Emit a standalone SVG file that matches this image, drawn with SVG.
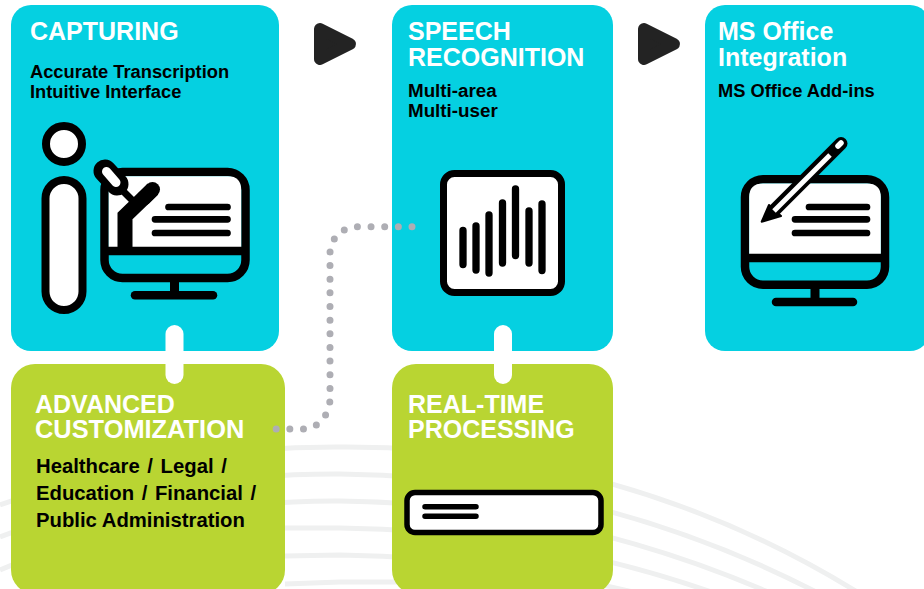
<svg xmlns="http://www.w3.org/2000/svg" width="924" height="589" viewBox="0 0 924 589">
<style>
.c{fill:#05d0e1}.g{fill:#b9d532}
.h{font:700 25px "Liberation Sans",Arial,sans-serif;fill:#fff}
.b{font:700 18.3px "Liberation Sans",Arial,sans-serif;fill:#000}
.m{font-size:18.8px}
.l{font-size:20.3px}
.s{word-spacing:2px}
.k{fill:none;stroke:#000;stroke-linecap:round;stroke-linejoin:round}
.w{fill:#fff;stroke:#000;stroke-linejoin:round}
.arc{fill:none;stroke:#eff0f0;stroke-width:5}
.br{fill:#fff}
.tri{fill:#232323;stroke:#232323;stroke-width:12;stroke-linejoin:round}
</style>
<rect width="924" height="589" fill="#fff"/>
<g id="background">
<path class="arc" d="M0 505A1000 1000 0 0 1 340 447A972 972 0 0 1 862 595"/>
<path class="arc" d="M0 537A920 920 0 0 1 340 474A1060 1060 0 0 1 822 595"/>
<path class="arc" d="M0 570A840 840 0 0 1 340 501A1110 1110 0 0 1 775 595"/>
<path class="arc" d="M285 528H340A1170 1170 0 0 1 720 595"/>
<path class="arc" d="M285 556L340 555A1310 1310 0 0 1 645 595"/>
<path class="arc" d="M285 584L340 582H400"/>
</g>
<g id="capturing">
<rect class="c" x="11" y="5" width="268" height="346" rx="20"/>
<text class="h" x="30" y="40">CAPTURING</text>
<text class="b" x="30" y="78">Accurate Transcription</text>
<text class="b" x="30" y="98">Intuitive Interface</text>
<circle class="w" cx="64" cy="144" r="18" stroke-width="8"/>
<rect class="w" x="45.500" y="180" width="37" height="130" rx="18.500" stroke-width="8"/>
<rect class="w" x="104.500" y="172" width="141" height="106" rx="18" stroke-width="8.500" style="fill:#05d0e1"/>
<path d="M108.700 247V190Q108.700 176.200 122 176.200H228Q241.200 176.200 241.200 190V247Z" fill="#fff"/>
<path class="k" d="M104.500 251H245.500" stroke-width="8.500" style="stroke-linecap:butt"/>
<path class="k" d="M174.500 280V294" stroke-width="9" style="stroke-linecap:butt"/>
<path class="k" d="M135 295.300H213" stroke-width="8.500"/>
<path class="k" d="M168.500 207H227.500M155 219.300H227.500M155 233H227.500" stroke-width="6.700"/>
<path class="k" d="M125 247V216L153 189" stroke-width="15" style="stroke-linecap:butt;stroke-linejoin:miter"/>
<path class="k" d="M144 198L152.500 189.500" stroke-width="15"/>
<path class="k" d="M110 178L133 201" stroke-width="7"/>
<path class="k" d="M105 171L117 184" stroke-width="23"/>
<path class="k" d="M106.500 171.500L116 182.500" stroke-width="9" style="stroke:#fff"/>
</g>
<g id="speech">
<rect class="c" x="392" y="5" width="221" height="346" rx="20"/>
<text class="h" x="408" y="40">SPEECH</text>
<text class="h" x="408" y="66">RECOGNITION</text>
<text class="b m" x="408" y="97">Multi-area</text>
<text class="b m" x="408" y="117">Multi-user</text>
<rect class="w" x="443.500" y="173.500" width="118" height="119" rx="11" stroke-width="7"/>
<path class="k" d="M463 230.500V264.500M476 226V270M489 215V273M502.500 203V263M515.500 189V255.500M529 211V263M542 204V270.500" stroke-width="7.300"/>
</g>
<g id="office">
<rect class="c" x="705" y="5" width="225" height="346" rx="20"/>
<text class="h" x="718" y="40">MS Office</text>
<text class="h" x="718" y="66">Integration</text>
<text class="b" x="718" y="97">MS Office Add-ins</text>
<rect class="w" x="745" y="179.200" width="140" height="105.500" rx="18" stroke-width="8.500" style="fill:#05d0e1"/>
<path d="M749.200 254V197Q749.200 183.400 763 183.400H867Q880.800 183.400 880.800 197V254Z" fill="#fff"/>
<path class="k" d="M745 258H885" stroke-width="8.500" style="stroke-linecap:butt"/>
<path class="k" d="M815 287V300" stroke-width="9" style="stroke-linecap:butt"/>
<path class="k" d="M776 302H853" stroke-width="8.500"/>
<path class="k" d="M809 207H867M795 219.300H867M795 233H867" stroke-width="6.700"/>
<path d="M761.700 221.700L769 205L781 216Z" fill="#000" stroke="#000" stroke-width="2" stroke-linejoin="round"/>
<path class="k" d="M775 209.500L841 143.500" stroke-width="13"/>
<path class="k" d="M774 211L830 155" stroke-width="5" style="stroke:#fff;stroke-linecap:butt"/>
<path class="k" d="M838 146L841 143" stroke-width="5.500" style="stroke:#fff"/>
</g>
<g id="customization">
<rect class="g" x="11" y="364" width="274" height="230" rx="24"/>
<text class="h" x="35" y="412.500">ADVANCED</text>
<text class="h" x="35" y="438" style="font-size:25.400px">CUSTOMIZATION</text>
<text class="b l s" x="36" y="473">Healthcare / Legal /</text>
<text class="b l s" x="36" y="500">Education / Financial /</text>
<text class="b l" x="36" y="527">Public Administration</text>
</g>
<g id="realtime">
<rect class="g" x="392" y="364" width="221" height="230" rx="24"/>
<text class="h" x="408" y="412.500">REAL-TIME</text>
<text class="h" x="408" y="438">PROCESSING</text>
<rect class="w" x="407" y="492.500" width="194" height="40" rx="8" stroke-width="5.500"/>
<path class="k" d="M425 506.700H476M425 516.300H476" stroke-width="5.500"/>
</g>
<g id="connectors">
<rect class="br" x="165.500" y="325" width="18" height="59" rx="9"/>
<rect class="br" x="494" y="325" width="18" height="59" rx="9"/>
<path d="M412 226.700H357A27 27 0 0 0 330 254V398A27 31 0 0 1 303 429H270" fill="none" stroke="#aeaeb4" stroke-width="7" stroke-linecap="round" stroke-dasharray="0 13.650"/>
<path class="tri" d="M320 29L350 44L320 59Z"/>
<path class="tri" d="M644 29L674 44L644 59Z"/>
</g>
</svg>
